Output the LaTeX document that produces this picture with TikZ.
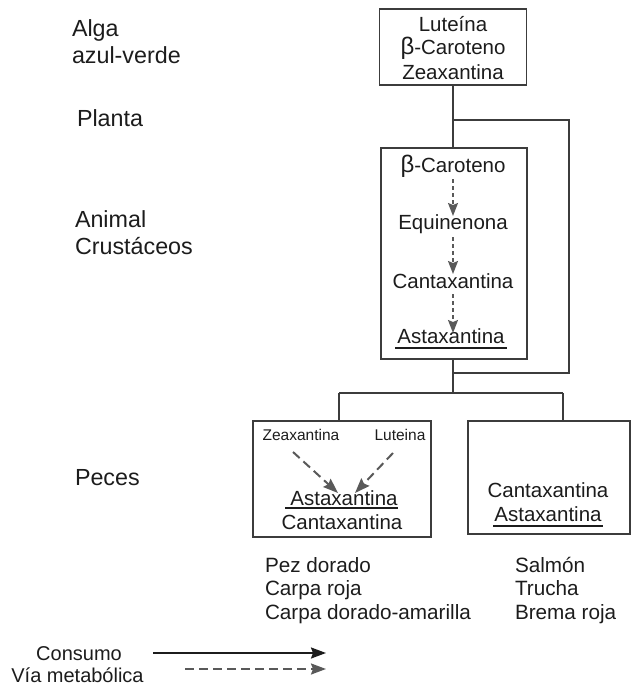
\documentclass[tikz,border=0pt]{standalone}
\usepackage{fontspec}
\setmainfont{Liberation Sans}
\usetikzlibrary{arrows.meta,calc}
\definecolor{ink}{HTML}{1c1c1c}
\definecolor{linecol}{HTML}{3c3c3c}
\begin{document}
\begin{tikzpicture}[x=1pt,y=-1pt,
  every node/.style={text=ink, inner sep=0pt, outer sep=0pt},
  boxtxt/.style={font=\fontsize{20.5}{24}\selectfont, anchor=base},
  sidetxt/.style={font=\fontsize{23.3}{26}\selectfont, anchor=base west},
  smalltxt/.style={font=\fontsize{15.5}{18}\selectfont, anchor=base},
  fishtxt/.style={font=\fontsize{20.7}{24}\selectfont, anchor=base west},
  legtxt/.style={font=\fontsize{20}{24}\selectfont, anchor=base},
  box/.style={draw=linecol, line width=1.8pt},
  conn/.style={draw=linecol, line width=1.5pt},
  ulin/.style={draw=ink, line width=1.5pt},
  met/.style={draw=linecol!85, line width=2pt, dash pattern=on 9pt off 5pt,
    -{Stealth[length=15pt,width=11pt,inset=2pt]}},
  metin/.style={draw=linecol!85, line width=1.5pt, dash pattern=on 4pt off 3pt,
    -{Stealth[length=13pt,width=10pt,inset=2pt]}},
  cons/.style={draw=ink, line width=2pt, -{Stealth[length=15pt,width=11pt,inset=2pt]}}
]
\useasboundingbox (0,0) rectangle (631,687);

% left labels
\node[sidetxt] (la1) at (72,37) {Alga};
\node[sidetxt] (la2) at (72,64) {azul-verde};
\node[sidetxt] (lp) at (77,127) {Planta};
\node[sidetxt] (lan1) at (75,227) {Animal};
\node[sidetxt] (lan2) at (75,254) {Crustáceos};
\node[sidetxt] (lpe) at (75,485) {Peces};

% top box
\node[box, minimum width=147pt, minimum height=76pt] (b1) at (453,47) {};
\node[boxtxt] (t11) at (453,32) {Luteína};
\node[boxtxt] (t12) at (453,55) {{\fontsize{24}{24}\selectfont β}-Caroteno};
\node[boxtxt] (t13) at (453,80) {Zeaxantina};

% crustacean box
\node[box, minimum width=146pt, minimum height=211pt] (b2) at (454,253.5) {};
\node[boxtxt] (t21) at (453,172) {{\fontsize{24}{24}\selectfont β}-Caroteno};
\node[boxtxt] (t22) at (453,229) {Equinenona};
\node[boxtxt] (t23) at (453,288) {Cantaxantina};
\node[boxtxt] (t24) at (451,343) {Astaxantina};
\draw[ulin] ($(t24.base west)+(-2,5)$) -- ($(t24.base east)+(2,5)$);
\coordinate (a1s) at (453,179);
\coordinate (a1e) at (453,216);
\coordinate (a2s) at (453,237);
\coordinate (a2e) at (453,274);
\coordinate (a3s) at (453,294);
\coordinate (a3e) at (453,333);
\draw[metin] (a1s) -- (a1e);
\draw[metin] (a2s) -- (a2e);
\draw[metin] (a3s) -- (a3e);

% connectors top
\coordinate (j1) at (453,120);
\coordinate (c1) at (569,120);
\coordinate (c2) at (569,373);
\coordinate (j2) at (453,373);
\coordinate (j3) at (453,393);
\draw[conn] (b1.south) -- (b1.south |- b2.north);
\draw[conn] (j1) -- (c1) -- (c2) -- (j2);
\draw[conn] (j2 |- b2.south) -- (j3);

% fish boxes
\node[box, minimum width=178pt, minimum height=116pt] (fl) at (342,479) {};
\node[box, minimum width=162pt, minimum height=113pt] (fr) at (549,477.5) {};
\coordinate (jl) at (339,393);
\coordinate (jr) at (563,393);
\draw[conn] (jl) -- (jr);
\draw[conn] (jl) -- (jl |- fl.north);
\draw[conn] (jr) -- (jr |- fr.north);

% left fish box contents
\node[smalltxt] (zx) at (301,440) {Zeaxantina};
\node[smalltxt] (lu) at (400,440) {Luteina};
\node[boxtxt] (fa) at (344,505) {Astaxantina};
\draw[ulin] ($(fa.base west)+(-5,3)$) -- ($(fa.base east)+(0,3)$);
\node[boxtxt] (fc) at (342,529) {Cantaxantina};
\coordinate (d1s) at (293,452);
\coordinate (d1e) at (338,493);
\coordinate (d2s) at (393,453);
\coordinate (d2e) at (355,493);
\draw[met] (d1s) -- (d1e);
\draw[met] (d2s) -- (d2e);

% right fish box contents
\node[boxtxt] (rc) at (548,497) {Cantaxantina};
\node[boxtxt] (ra) at (548,521) {Astaxantina};
\draw[ulin] ($(ra.base west)+(-1,5)$) -- ($(ra.base east)+(1,5)$);

% fish names
\node[fishtxt] (n1) at (265,572) {Pez dorado};
\node[fishtxt] (n2) at (265,595) {Carpa roja};
\node[fishtxt] (n3) at (265,619) {Carpa dorado-amarilla};
\node[fishtxt] (n4) at (515,572) {Salmón};
\node[fishtxt] (n5) at (515,595) {Trucha};
\node[fishtxt] (n6) at (515,619) {Brema roja};

% legend
\node[legtxt] (lc) at (79,660) {Consumo};
\node[legtxt] (lv) at (77.5,682) {Vía metabólica};
\coordinate (s1) at (153,653);
\coordinate (s2) at (326,653);
\coordinate (m1) at (185,669);
\coordinate (m2) at (326,669);
\draw[cons] (s1) -- (s2);
\draw[met] (m1) -- (m2);
\end{tikzpicture}
\end{document}
